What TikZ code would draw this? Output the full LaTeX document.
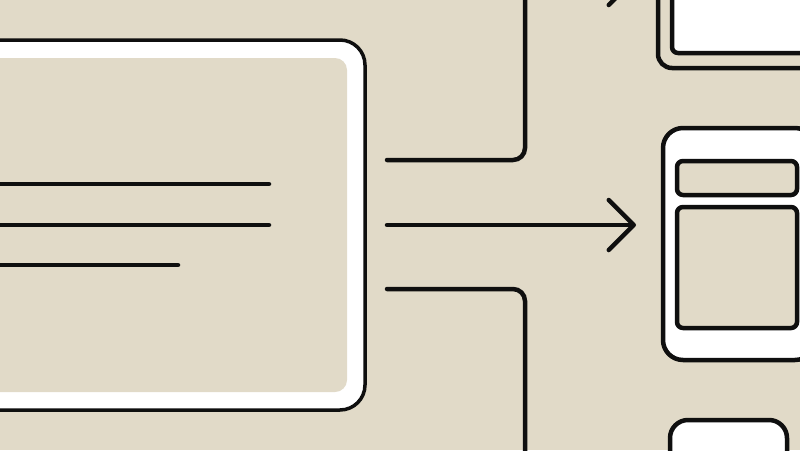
\documentclass[tikz,border=0pt]{standalone}
\usetikzlibrary{positioning, arrows.meta}
\definecolor{PaperBeige}{HTML}{E1DAC8}
\definecolor{InkBlack}{HTML}{0F0F0F}

\begin{document}
\begin{tikzpicture}[
    x=1pt, y=-1pt,
    frame/.style={draw=InkBlack, line width=3.5pt, rounded corners=25pt, fill=white, inner sep=0pt, outer sep=0pt},
    pane/.style={fill=PaperBeige, rounded corners=12pt, inner sep=0pt},
    device/.style={draw=InkBlack, line width=4.5pt, rounded corners=18pt, fill=white, inner sep=0pt, outer sep=0pt},
    screen/.style={draw=InkBlack, line width=4.5pt, rounded corners=6pt, fill=PaperBeige, inner sep=0pt},
    textline/.style={InkBlack, line width=4.5pt, line cap=round},
    link/.style={InkBlack, line width=4.5pt, line cap=round, rounded corners=12pt},
    arrow/.style={link, -{Straight Barb[length=25pt, width=50pt, round]}}
  ]
  \fill[PaperBeige] (0,0) rectangle (800,450);
  \useasboundingbox (0,0) rectangle (800,450);
  \clip (0,0) rectangle (800,450);

  % source panel
  \node[frame, minimum width=405pt, minimum height=370pt] (panel) at (162.5,225) {};
  \node[pane, minimum width=369pt, minimum height=334pt] (panelin) at (panel.center) {};
  \draw[textline] (-10,184) -- (269,184);
  \draw[textline] (-10,225) -- (269,225);
  \draw[textline] (-10,265) -- (178,265);

  % target devices
  \node[device, fill=PaperBeige, rounded corners=14pt, minimum width=182pt, minimum height=118pt] (monitor) at (749,9) {};
  \node[screen, fill=white, minimum width=178pt, minimum height=93pt] (display) at (761,6.5) {};
  \node[device, rounded corners=20pt, minimum width=152pt, minimum height=232pt] (tablet) at (739,244) {};
  \node[screen, minimum width=120pt, minimum height=34pt] (header) at (737,178) {};
  \node[screen, minimum width=120pt, minimum height=121pt] (view) at (737,267.5) {};
  \node[device, minimum width=117pt, minimum height=120pt] (phone) at (728.5,480) {};

  % connectors
  \coordinate (out1) at ([xshift=22pt, yshift=65pt]panel.east);
  \coordinate (out2) at ([xshift=22pt]panel.east);
  \coordinate (out3) at ([xshift=22pt, yshift=-64pt]panel.east);
  \coordinate (up) at (525,-20);
  \coordinate (down) at (525,480);

  \draw[arrow, shorten >=22pt] (out1) -| (up) -- (up -| monitor.west);
  \draw[arrow, shorten >=27pt] (out2) -- (out2 -| tablet.west);
  \draw[arrow, shorten >=22pt] (out3) -| (down) -- (phone.west);
\end{tikzpicture}
\end{document}
